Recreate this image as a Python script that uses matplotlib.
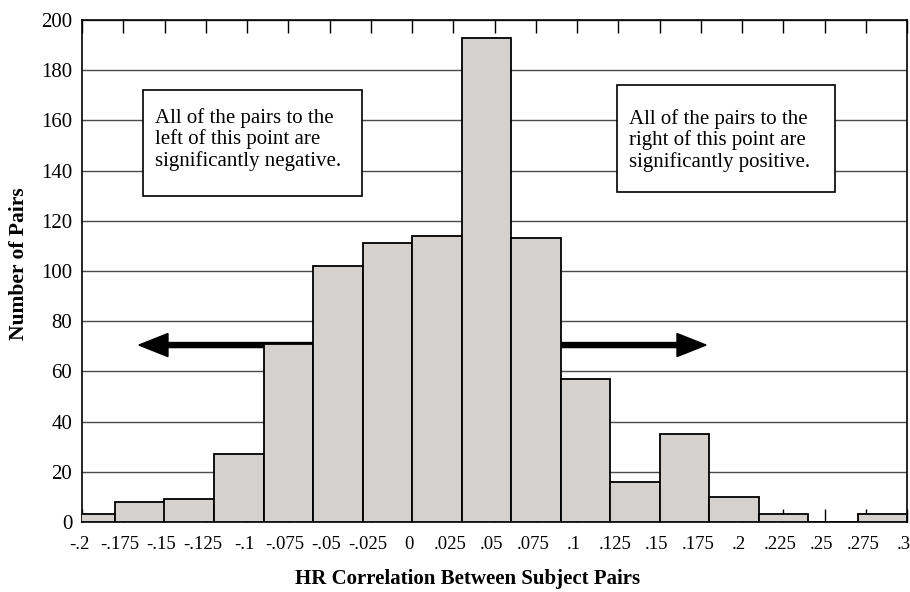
import numpy as np
import matplotlib.pyplot as plt
import matplotlib.transforms as mtransforms

plt.rcParams['font.family'] = ['Liberation Serif', 'DejaVu Serif']

# histogram of HR correlations, bins .03 wide
bin_centers = [-0.195, -0.165, -0.135, -0.105, -0.075, -0.045, -0.015, 0.015, 0.045,
               0.075, 0.105, 0.135, 0.165, 0.195, 0.225, 0.255, 0.285]
counts = [3, 8, 9, 27, 71, 102, 111, 114, 193, 113, 57, 16, 35, 10, 3, 0, 3]
bin_width = 0.03

tick_vals = [-0.2, -0.175, -0.15, -0.125, -0.1, -0.075, -0.05, -0.025, 0, 0.025, 0.05,
             0.075, 0.1, 0.125, 0.15, 0.175, 0.2, 0.225, 0.25, 0.275, 0.3]
tick_labels = ['-.2', '-.175', '-.15', '-.125', '-.1', '-.075', '-.05', '-.025', '0', '.025', '.05',
               '.075', '.1', '.125', '.15', '.175', '.2', '.225', '.25', '.275', '.3']
y_ticks = list(range(0, 201, 20))

left_note = "All of the pairs to the\nleft of this point are\nsignificantly negative."
right_note = "All of the pairs to the\nright of this point are\nsignificantly positive."

fig = plt.figure(figsize=(9.1, 5.92), dpi=100)
ax = fig.add_axes([82/910, 70/592, 825/910, 502/592])

ax.bar(bin_centers, counts, width=bin_width, color='#d4d1ce', edgecolor='black',
       linewidth=1.3, zorder=3)

ax.set_xlim(-0.2, 0.3)
ax.set_ylim(0, 200)
ax.set_axisbelow(True)
ax.yaxis.grid(True, color='#4a4a4a', linewidth=1.0, zorder=0)

ax.set_xticks(tick_vals)
ax.set_xticklabels(tick_labels, fontsize=13.5)
ax.tick_params(axis='x', direction='in', length=9.5, width=1.0, top=True, pad=10)
# labels sit a little left of their ticks in the original
shift = mtransforms.ScaledTranslation(-3/100, 0, fig.dpi_scale_trans)
for lbl in ax.get_xticklabels():
    lbl.set_transform(lbl.get_transform() + shift)
ax.set_yticks(y_ticks)
ax.set_yticklabels([str(v) for v in y_ticks], fontsize=15)
ax.tick_params(axis='y', length=0, pad=7)
for s in ax.spines.values():
    s.set_linewidth(1.2)

# arrows pointing away from the centre
ax.arrow(0.0, 70.5, -0.1655, 0, width=2.0, head_width=9.2, head_length=0.0176,
         length_includes_head=True, color='black', zorder=2)
ax.arrow(0.0, 70.5, 0.1782, 0, width=2.0, head_width=9.2, head_length=0.0176,
         length_includes_head=True, color='black', zorder=2)

# note boxes
ax.add_patch(plt.Rectangle((-0.163, 130), 0.1327, 42, facecolor='white',
                           edgecolor='black', linewidth=1.2, zorder=4))
ax.text(-0.1558, 152.5, left_note, fontsize=15, ha='left', va='center',
        linespacing=1.1, zorder=5)
ax.add_patch(plt.Rectangle((0.1242, 131.5), 0.1322, 42.6, facecolor='white',
                           edgecolor='black', linewidth=1.2, zorder=4))
ax.text(0.1315, 152, right_note, fontsize=15, ha='left', va='center',
        linespacing=1.1, zorder=5)

fig.text(468/910, 1 - 579/592, "HR Correlation Between Subject Pairs", fontsize=15,
         fontweight='bold', ha='center', va='center')
fig.text(19/910, 1 - 264/592, "Number of Pairs", fontsize=15.5, fontweight='bold',
         rotation=90, ha='center', va='center')

plt.savefig("out.png", dpi=100)
